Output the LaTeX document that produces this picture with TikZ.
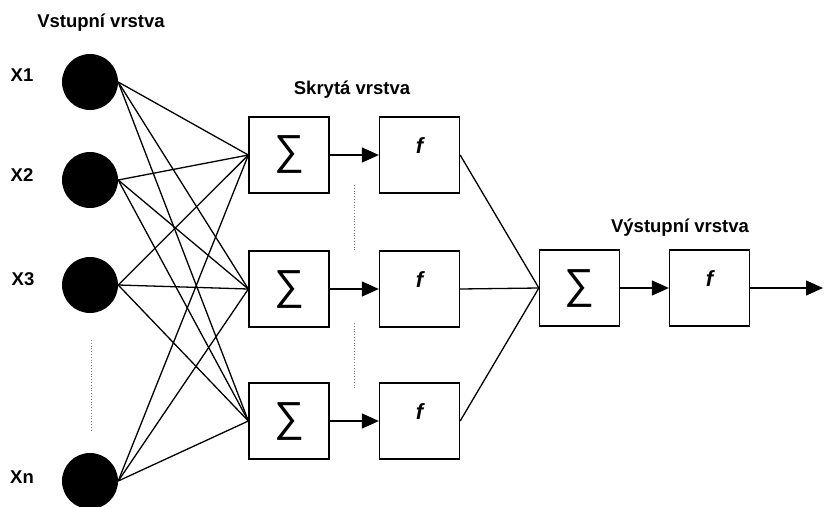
\documentclass[tikz,border=0pt]{standalone}
\usepackage{fontspec}
\setmainfont{Liberation Sans}
\usetikzlibrary{arrows.meta}
\begin{document}
\begin{tikzpicture}[x=1pt,y=-1pt,
  neuron/.style={circle,fill=black,minimum size=56pt,inner sep=0pt},
  box/.style={draw,line width=1.3pt,minimum width=80pt,minimum height=76pt,inner sep=0pt},
  lbl/.style={font=\bfseries\fontsize{18.5}{20}\selectfont,inner sep=0pt},
  sig/.style={font=\fontsize{42}{42}\selectfont},
  fl/.style={font=\bfseries\itshape\fontsize{22}{22}\selectfont,inner sep=0pt},
  link/.style={line width=1.3pt},
  arr/.style={line width=1.3pt,-{Triangle[length=17pt,width=15pt]}},
  dots/.style={dotted,line width=0.8pt,gray}]
\useasboundingbox (0,0) rectangle (824,506);
% titles
\node[lbl] (tin) at (101,23) {Vstupní vrstva};
\node[lbl] (thid) at (352,90) {Skrytá vrstva};
\node[lbl] (tout) at (680,228) {Výstupní vrstva};
% inputs
\node[neuron] (x1) at (90,82) {};
\node[neuron] (x2) at (90,180) {};
\node[neuron] (x3) at (90,285) {};
\node[neuron] (xn) at (90,481) {};
\node[lbl] (lx1) at (22,75) {X1};
\node[lbl] (lx2) at (22,175) {X2};
\node[lbl] (lx3) at (23,279) {X3};
\node[lbl] (lxn) at (22,477) {Xn};
% hidden
\node[box,sig] (s1) at (289,155) {∑};
\node[box,sig] (s2) at (289,289) {∑};
\node[box,sig] (s3) at (289,421) {∑};
\node[box] (f1) at (419.5,155) {};
\node[box] (f2) at (419.5,289) {};
\node[box] (f3) at (419.5,421) {};
\node[fl] (lf1) at (419.5,146) {f};
\node[fl] (lf2) at (419.5,280) {f};
\node[fl] (lf3) at (419.5,412) {f};
% output
\node[box,sig] (os) at (579.5,288) {∑};
\node[box] (of) at (709.5,288) {};
\node[fl] (lof) at (709.5,279) {f};
\coordinate (end) at (823,288);
% connections
\foreach \i in {x1,x2,x3,xn}
  \foreach \j in {s1,s2,s3}
    \draw[link] (\i.east) -- (\j.west);
\foreach \k in {1,2,3} {
  \draw[arr] (s\k.east) -- (f\k.west);
  \draw[link] (f\k.east) -- (os.west);
}
\draw[arr] (os.east) -- (of.west);
\draw[arr] (of.east) -- (end);
% dotted
\draw[dots] (91,340) -- (91,430);
\draw[dots] (354,185) -- (354,252);
\draw[dots] (354,323) -- (354,390);
\end{tikzpicture}
\end{document}
